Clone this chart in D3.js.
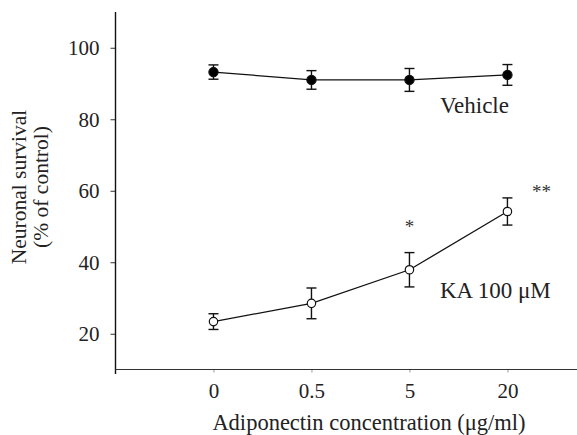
<!DOCTYPE html>
<html>
<head>
<meta charset="utf-8">
<script src="https://cdn.jsdelivr.net/npm/d3@7"></script>
<style>
  body { margin: 0; background: #fff; }
</style>
</head>
<body>
<div id="viz"></div>
<script>

// concentrations (categorical positions on x)
const doses = ["0", "0.5", "5", "20"];

// Vehicle series
const vehicleMean = [93.2, 91.0, 91.0, 92.4];
const vehicleErr = [2.0, 2.6, 3.2, 2.9];

// KA 100 µM series
const kaMean = [23.4, 28.5, 37.9, 54.2];
const kaErr = [2.2, 4.3, 4.8, 3.8];

// significance marks above KA points
const sigMarks = ["", "", "*", "**"];

const yTicks = [20, 40, 60, 80, 100];

const width = 577;
const height = 435;
const serif = "'Liberation Serif', 'Times New Roman', Times, serif";

const svg = d3.select("#viz")
    .append("svg")
    .attr("width", width)
    .attr("height", height)
    .attr("font-family", serif);

// x axis runs from one step left of "0" out to the edge
const x = d3.scaleLinear()
    .domain([-1, 3.71])
    .range([115.5, 577]);

const y = d3.scaleLinear()
    .domain([10, 110])
    .range([369.5, 12]);

// axes
const yAxis = svg.append("g")
    .attr("transform", "translate(115.5,0)")
    .call(d3.axisLeft(y).tickValues(yTicks).tickSize(5).tickPadding(11));
yAxis.attr("font-family", serif);
yAxis.select(".domain").remove();
yAxis.selectAll("line").attr("stroke", "#333");
yAxis.selectAll("text")
    .attr("fill", "#222")
    .style("font-size", "21px")
    .attr("dy", "0.33em");

svg.append("line")
    .attr("x1", 115.5).attr("x2", 115.5)
    .attr("y1", y(110)).attr("y2", 374)
    .attr("stroke", "#111").attr("stroke-width", 1.4);

const xAxis = svg.append("g")
    .attr("transform", "translate(0,369.5)")
    .call(d3.axisBottom(x).tickValues(d3.range(doses.length)).tickSize(3).tickPadding(10.5)
        .tickFormat(i => doses[i]));
xAxis.attr("font-family", serif);
xAxis.select(".domain").remove();
xAxis.selectAll("line").attr("stroke", "#999");
xAxis.selectAll("text").attr("fill", "#222").style("font-size", "21px");

svg.append("line")
    .attr("x1", 115.5).attr("x2", 577)
    .attr("y1", 369.5).attr("y2", 369.5)
    .attr("stroke", "#333").attr("stroke-width", 1.2);

// axis titles
svg.append("text")
    .attr("x", 369)
    .attr("y", 430)
    .attr("text-anchor", "middle")
    .attr("fill", "#222")
    .style("font-size", "22.5px")
    .text("Adiponectin concentration (\u03bcg/ml)");

const yTitle = svg.append("g")
    .attr("transform", "translate(0,187) rotate(-90)");
yTitle.append("text")
    .attr("x", 0).attr("y", 26)
    .attr("text-anchor", "middle")
    .attr("fill", "#222")
    .style("font-size", "21.5px")
    .text("Neuronal survival");
yTitle.append("text")
    .attr("x", 0).attr("y", 47.5)
    .attr("text-anchor", "middle")
    .attr("fill", "#222")
    .style("font-size", "21.5px")
    .text("(% of control)");

function drawSeries(means, errs, filled) {
    const pts = means.map((m, i) => ({ i: i, m: m, e: errs[i] }));

    svg.append("path")
        .datum(pts)
        .attr("fill", "none")
        .attr("stroke", "#111")
        .attr("stroke-width", 1.3)
        .attr("d", d3.line().x(d => x(d.i)).y(d => y(d.m)));

    const bars = svg.append("g")
        .attr("stroke", "#111")
        .attr("stroke-width", 1.4)
        .selectAll("g")
        .data(pts)
        .join("g");

    bars.append("line")
        .attr("x1", d => x(d.i)).attr("x2", d => x(d.i))
        .attr("y1", d => y(d.m + d.e)).attr("y2", d => y(d.m - d.e));
    bars.append("line")
        .attr("x1", d => x(d.i) - 5).attr("x2", d => x(d.i) + 5)
        .attr("y1", d => y(d.m + d.e)).attr("y2", d => y(d.m + d.e));
    bars.append("line")
        .attr("x1", d => x(d.i) - 5).attr("x2", d => x(d.i) + 5)
        .attr("y1", d => y(d.m - d.e)).attr("y2", d => y(d.m - d.e));

    svg.append("g")
        .selectAll("circle")
        .data(pts)
        .join("circle")
        .attr("cx", d => x(d.i))
        .attr("cy", d => y(d.m))
        .attr("r", filled ? 4.6 : 4.2)
        .attr("fill", filled ? "#000" : "#fff")
        .attr("stroke", "#111")
        .attr("stroke-width", 1.2);
}

drawSeries(vehicleMean, vehicleErr, true);
drawSeries(kaMean, kaErr, false);

// series labels
svg.append("text")
    .attr("x", 440).attr("y", 113)
    .attr("fill", "#222")
    .style("font-size", "23px")
    .text("Vehicle");
svg.append("text")
    .attr("x", 440).attr("y", 298)
    .attr("fill", "#222")
    .style("font-size", "23px")
    .text("KA 100 \u03bcM");

// significance stars
svg.append("g")
    .selectAll("text")
    .data(sigMarks.map((s, i) => ({ s: s, i: i })).filter(d => d.s))
    .join("text")
    .attr("x", d => d.s.length > 1 ? x(d.i) + 34 : x(d.i))
    .attr("y", d => d.s.length > 1 ? 198 : 233)
    .attr("text-anchor", "middle")
    .attr("fill", "#333")
    .style("font-size", "19px")
    .text(d => d.s);

</script>
</body>
</html>
